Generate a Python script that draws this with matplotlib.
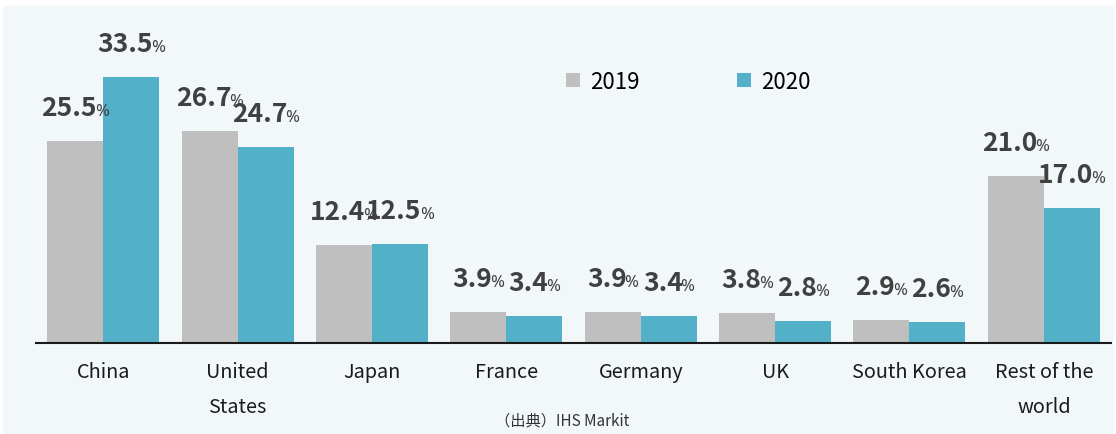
import matplotlib
matplotlib.use('Agg')
import matplotlib.pyplot as plt
import matplotlib.patches as mpatches
import numpy as np

plt.rcParams['font.family'] = ['Noto Sans CJK JP', 'DejaVu Sans']

# share by country (%)
countries = ['China', 'United\nStates', 'Japan', 'France', 'Germany', 'UK',
             'South Korea', 'Rest of the\nworld']
share_2019 = [25.5, 26.7, 12.4, 3.9, 3.9, 3.8, 2.9, 21.0]
share_2020 = [33.5, 24.7, 12.5, 3.4, 3.4, 2.8, 2.6, 17.0]
years = ['2019', '2020']

GRAY = '#bfbfbf'
TEAL = '#52b0c9'
BG = '#f2f7fa'
DPI = 100

fig = plt.figure(figsize=(11.16, 4.35), dpi=DPI, facecolor='white')
# light background panel
fig.add_artist(mpatches.Rectangle((3 / 1116, 0), 1110 / 1116, 428 / 435,
                                  transform=fig.transFigure, color=BG, zorder=-10))

ax = fig.add_axes([36 / 1116, 91 / 435, 1075 / 1116, 324 / 435])
ax.set_facecolor('none')
ax.set_zorder(1)

x = np.arange(len(countries))
w = 0.417
b1 = ax.bar(x - w / 2, share_2019, w, color=GRAY, label=years[0])
b2 = ax.bar(x + w / 2, share_2020, w, color=TEAL, label=years[1])

ax.set_xlim(-0.5, 7.5)
ax.set_ylim(0, 40.8)
ax.set_yticks([])
ax.set_xticks(x)
ax.set_xticklabels(countries, fontsize=14.3, color='#1a1a1a', linespacing=1.9)
ax.tick_params(axis='x', length=0, pad=13)
for s in ['top', 'right', 'left']:
    ax.spines[s].set_visible(False)
ax.spines['bottom'].set_linewidth(1.5)
ax.spines['bottom'].set_color('#1a1a1a')

# value labels: bold number + small %
fig.canvas.draw()
r = fig.canvas.get_renderer()
pct_font = dict(fontsize=12, family=['Noto Sans', 'DejaVu Sans'], color='#404040')
num_font = dict(fontsize=19, fontweight='bold', color='#404040')
GAP = -2  # pull the % against the number (px)
def label(xc, h):
    num = '%.1f' % h
    t1 = ax.text(0, 0, num, **num_font)
    t2 = ax.text(0, 0, '%', **pct_font)
    w1 = t1.get_window_extent(r).width + GAP
    w2 = t2.get_window_extent(r).width
    t1.remove(); t2.remove()
    start = -(w1 + w2) / 2
    k = 72 / DPI
    ax.annotate(num, (xc, h), xytext=(start * k, 18.7), textcoords='offset points',
                ha='left', va='baseline', **num_font)
    ax.annotate('%', (xc, h), xytext=((start + w1) * k, 18.7), textcoords='offset points',
                ha='left', va='baseline', **pct_font)

for i in range(len(countries)):
    label(x[i] - w / 2, share_2019[i])
    label(x[i] + w / 2, share_2020[i])

ax.legend(loc='upper left', bbox_to_anchor=(510 / 1075, 1 - 31 / 324), ncol=2, frameon=False,
          fontsize=16, handlelength=0.63, handleheight=0.63, handletextpad=0.45,
          columnspacing=4.4)

fig.text(562 / 1116, 14 / 435, '（出典）IHS Markit', ha='center', va='center',
         fontsize=11, color='#333333')

plt.savefig('out.png', dpi=DPI, facecolor='white')
